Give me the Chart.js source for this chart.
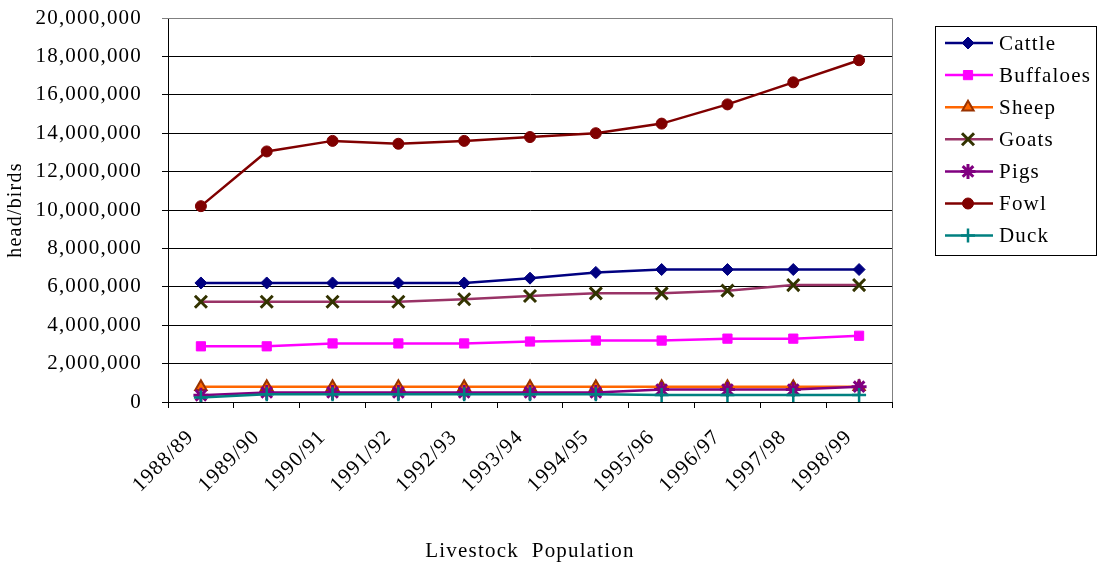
<!DOCTYPE html>
<html>
<head>
<meta charset="utf-8">
<script src="https://cdn.jsdelivr.net/npm/chart.js@4.4.1/dist/chart.umd.min.js"></script>
<style>
  html, body { margin: 0; padding: 0; background: #fff; }
  canvas { display: block; }
</style>
</head>
<body>
<canvas id="chart" width="1104" height="568"></canvas>
<script>
// Livestock counts by fiscal year
const years = ['1988/89', '1989/90', '1990/91', '1991/92', '1992/93', '1993/94',
               '1994/95', '1995/96', '1996/97', '1997/98', '1998/99'];

const cattle    = [6200000, 6200000, 6200000, 6200000, 6200000, 6450000, 6750000, 6900000, 6900000, 6900000, 6900000];
const buffaloes = [2900000, 2900000, 3050000, 3050000, 3050000, 3150000, 3200000, 3200000, 3300000, 3300000, 3450000];
const sheep     = [800000, 800000, 800000, 800000, 800000, 800000, 800000, 800000, 800000, 800000, 800000];
const goats     = [5220000, 5220000, 5220000, 5220000, 5350000, 5520000, 5660000, 5660000, 5800000, 6090000, 6090000];
const pigs      = [350000, 500000, 500000, 500000, 500000, 500000, 500000, 650000, 650000, 650000, 800000];
const fowl      = [10200000, 13050000, 13600000, 13450000, 13600000, 13800000, 14000000, 14500000, 15500000, 16650000, 17800000];
const duck      = [230000, 400000, 400000, 400000, 400000, 400000, 400000, 370000, 370000, 370000, 370000];

const Y_MIN = 0;
const Y_MAX = 20000000;
const Y_STEP = 2000000;

const FONT_FAMILY = '"Liberation Serif", "Times New Roman", serif';
const LETTER_SPACING = '1.2px';

function series(label, data, lineColor, pointStyle, fillColor, edgeColor, radius, edgeWidth, order) {
  return {
    label, data, order,
    borderColor: lineColor,
    borderWidth: 2.5,
    tension: 0,
    fill: false,
    pointStyle,
    pointRadius: radius,
    pointBackgroundColor: fillColor,
    pointBorderColor: edgeColor,
    pointBorderWidth: edgeWidth
  };
}

const datasets = [
  series('Cattle',    cattle,    '#000080', 'rectRot',  '#000080', '#000080', 6,   1,   6),
  series('Buffaloes', buffaloes, '#FF00FF', 'rect',     '#FF00FF', '#FF00FF', 6.5, 1,   5),
  series('Sheep',     sheep,     '#FF6600', 'triangle', '#FF6600', '#993300', 6.5, 2,   4),
  series('Goats',     goats,     '#993366', 'crossRot', '#333300', '#333300', 8.5, 3,   3),
  series('Pigs',      pigs,      '#800080', 'star',     '#800080', '#800080', 7.5, 3,   2),
  series('Fowl',      fowl,      '#800000', 'circle',   '#800000', '#800000', 5.5, 1,   1),
  series('Duck',      duck,      '#008080', 'cross',    '#008080', '#008080', 7,   2.5, 0)
];

// Slightly widened serif lettering
const spacingPlugin = {
  id: 'letterSpacing',
  beforeLayout(chart) { chart.ctx.letterSpacing = LETTER_SPACING; },
  beforeDraw(chart) { chart.ctx.letterSpacing = LETTER_SPACING; }
};

// Grey frame on the open sides of the plot area
const framePlugin = {
  id: 'plotFrame',
  beforeDatasetsDraw(chart) {
    const { ctx, chartArea: a } = chart;
    ctx.save();
    ctx.strokeStyle = '#808080';
    ctx.lineWidth = 1;
    ctx.beginPath();
    ctx.moveTo(a.left, Math.round(a.top) + 0.5);
    ctx.lineTo(Math.round(a.right) + 0.5, Math.round(a.top) + 0.5);
    ctx.lineTo(Math.round(a.right) + 0.5, a.bottom);
    ctx.stroke();
    ctx.restore();
  }
};

// Boxed legend with a line sample and marker per series
const legendPlugin = {
  id: 'boxLegend',
  afterDraw(chart) {
    const ctx = chart.ctx;
    const bx = 935.5, by = 26.5, bw = 161, bh = 229;
    const rowTop = 43, rowGap = 32.1;
    const lineX0 = 945, lineX1 = 993, markX = 968, textX = 999;
    ctx.save();
    ctx.letterSpacing = LETTER_SPACING;
    ctx.strokeStyle = '#000';
    ctx.lineWidth = 1;
    ctx.strokeRect(bx, by, bw, bh);
    chart.data.datasets.forEach((ds, i) => {
      const y = rowTop + i * rowGap;
      ctx.strokeStyle = ds.borderColor;
      ctx.lineWidth = ds.borderWidth;
      ctx.beginPath();
      ctx.moveTo(lineX0, y);
      ctx.lineTo(lineX1, y);
      ctx.stroke();
      ctx.fillStyle = ds.pointBackgroundColor;
      ctx.strokeStyle = ds.pointBorderColor;
      ctx.lineWidth = ds.pointBorderWidth;
      Chart.helpers.drawPoint(ctx, {
        pointStyle: ds.pointStyle,
        radius: ds.pointRadius,
        rotation: 0,
        borderWidth: ds.pointBorderWidth
      }, markX, y);
      ctx.fillStyle = '#000';
      ctx.font = '21px ' + FONT_FAMILY;
      ctx.textAlign = 'left';
      ctx.textBaseline = 'middle';
      ctx.fillText(ds.label, textX, y + 1);
    });
    ctx.restore();
  }
};

const tickFont = { family: FONT_FAMILY, size: 21 };

new Chart(document.getElementById('chart'), {
  type: 'line',
  data: { labels: years, datasets },
  options: {
    responsive: false,
    animation: false,
    events: [],
    layout: { padding: { top: 18, right: 212, left: 0, bottom: 0 } },
    plugins: {
      legend: { display: false },
      tooltip: { enabled: false }
    },
    scales: {
      x: {
        type: 'category',
        offset: true,
        grid: { offset: true, drawOnChartArea: false, drawTicks: true, tickLength: 6, color: '#000' },
        border: { color: '#000', width: 1 },
        ticks: {
          autoSkip: false, minRotation: 45, maxRotation: 45,
          font: tickFont, color: '#000', padding: 17, labelOffset: -10
        },
        title: {
          display: true, text: 'Livestock  Population',
          font: { family: FONT_FAMILY, size: 21 }, color: '#000',
          padding: { top: 4, bottom: 4 }
        },
        afterFit(scale) { scale.height = 166; }
      },
      y: {
        min: Y_MIN, max: Y_MAX,
        grid: {
          color: c => (c.tick && c.tick.value === Y_MAX) ? '#808080' : '#000',
          lineWidth: 1, tickLength: 6, drawTicks: true
        },
        border: { color: '#000', width: 1 },
        ticks: {
          stepSize: Y_STEP, font: tickFont, color: '#000', padding: 20,
          callback: v => Number(v).toLocaleString('en-US')
        },
        title: {
          display: true, text: 'head/birds',
          font: { family: FONT_FAMILY, size: 20 }, color: '#000',
          padding: { top: 4, bottom: 0 }
        },
        afterFit(scale) {
          scale.width = 168;
          scale.paddingTop = 0;
          scale.paddingBottom = 0;
        }
      }
    }
  },
  plugins: [spacingPlugin, framePlugin, legendPlugin]
});
</script>
</body>
</html>
